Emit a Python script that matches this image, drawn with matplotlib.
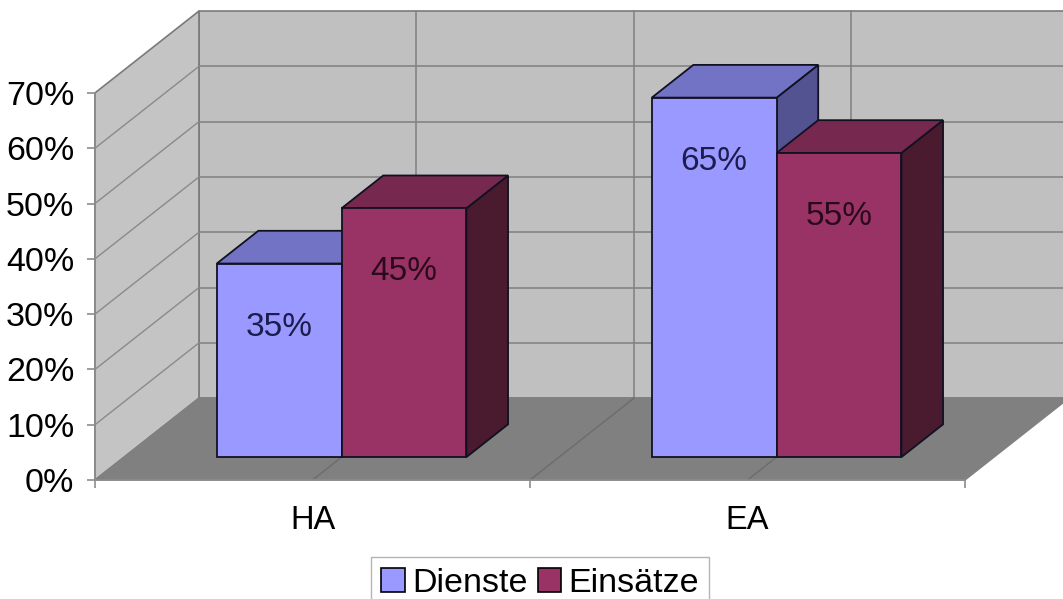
import matplotlib
matplotlib.use('Agg')
import matplotlib.pyplot as plt
from matplotlib.patches import Polygon, Patch

# Daten
categories = ['HA', 'EA']
dienste = [35, 65]
einsaetze = [45, 55]
series_names = ['Dienste', 'Einsätze']
y_ticks = [0, 10, 20, 30, 40, 50, 60, 70]

plt.rcParams['font.family'] = ['Liberation Sans', 'DejaVu Sans']

# Schräge Projektion für den 3D-Look (Tiefe d von 0 = vorne bis 1 = Rückwand)
DX = 0.239      # Verschiebung nach rechts, in Kategorie-Einheiten
DY = 14.8       # Verschiebung nach oben, in Prozent
D0, D1 = 0.28, 0.68
BAR_W = 0.287
YMAX = y_ticks[-1]
NCAT = len(categories)


def proj(x, v, d):
    return (x + d * DX, v + d * DY)


front_cols = ['#9999ff', '#993366']
top_cols = ['#7373c6', '#77284f']
side_cols = ['#535392', '#4a1a2f']
label_cols = ['#1c1c4e', '#2a0a1a']

fig = plt.figure(figsize=(10.63, 5.99), dpi=100)
ax = fig.add_axes([0, 0, 1, 1])
ax.set_xlim(-95 / 435, (1063 - 95) / 435)
ax.set_ylim((480 - 599) / 5.53, 480 / 5.53)

# Wände und Boden
back = [proj(0, 0, 1), proj(NCAT, 0, 1), proj(NCAT, YMAX, 1), proj(0, YMAX, 1)]
left = [proj(0, 0, 0), proj(0, 0, 1), proj(0, YMAX, 1), proj(0, YMAX, 0)]
floor = [proj(0, 0, 0), proj(NCAT, 0, 0), proj(NCAT, 0, 1), proj(0, 0, 1)]
ax.add_patch(Polygon(back, closed=True, fc='#c0c0c0', ec='#7a7a7a', lw=1.2, zorder=1))
ax.add_patch(Polygon(left, closed=True, fc='#c4c4c4', ec='#7a7a7a', lw=1.2, zorder=1))
ax.add_patch(Polygon(floor, closed=True, fc='#808080', ec='#808080', lw=1, zorder=1.2))

# Gitterlinien
for v in y_ticks[1:-1]:
    a, b = proj(0, v, 1), proj(NCAT, v, 1)
    ax.plot([a[0], b[0]], [a[1], b[1]], color='#808080', lw=1.1, zorder=1.1)
    a, b = proj(0, v, 0), proj(0, v, 1)
    ax.plot([a[0], b[0]], [a[1], b[1]], color='#8a8a8a', lw=1.0, zorder=1.1)
for x in [0.5, 1, 1.5]:
    a, b = proj(x, 0, 1), proj(x, YMAX, 1)
    ax.plot([a[0], b[0]], [a[1], b[1]], color='#808080', lw=1.1, zorder=1.1)
    a, b = proj(x, 0, 0), proj(x, 0, 1)
    ax.plot([a[0], b[0]], [a[1], b[1]], color='#6c6c6c', lw=1.0, zorder=1.3)

# Säulen
for i, cat in enumerate(categories):
    for s, vals in enumerate([dienste, einsaetze]):
        v = vals[i]
        x0 = i + 0.5 - BAR_W + s * BAR_W
        x1 = x0 + BAR_W
        side = [proj(x1, 0, D0), proj(x1, 0, D1), proj(x1, v, D1), proj(x1, v, D0)]
        top = [proj(x0, v, D0), proj(x1, v, D0), proj(x1, v, D1), proj(x0, v, D1)]
        front = [proj(x0, 0, D0), proj(x1, 0, D0), proj(x1, v, D0), proj(x0, v, D0)]
        z = 3 + i * 2 + s
        ax.add_patch(Polygon(side, closed=True, fc=side_cols[s], ec='#111122', lw=1.3, zorder=z))
        ax.add_patch(Polygon(top, closed=True, fc=top_cols[s], ec='#111122', lw=1.3, zorder=z))
        ax.add_patch(Polygon(front, closed=True, fc=front_cols[s], ec='#111122', lw=1.3, zorder=z))
        lx, ly = proj((x0 + x1) / 2, v - 11.5, D0)
        ax.text(lx, ly, f'{v}%', ha='center', va='center', fontsize=24,
                color=label_cols[s], zorder=10)

# Achsen
for sp in ['top', 'right']:
    ax.spines[sp].set_visible(False)
ax.spines['left'].set_position(('data', 0))
ax.spines['left'].set_bounds(0, YMAX)
ax.spines['bottom'].set_position(('data', 0))
ax.spines['bottom'].set_bounds(0, NCAT)
for sp in ['left', 'bottom']:
    ax.spines[sp].set_color('#8c8c8c')
    ax.spines[sp].set_linewidth(1.2)
    ax.spines[sp].set_zorder(2)

ax.set_yticks(y_ticks)
ax.set_yticklabels([f'{t}%' for t in y_ticks])
ax.set_xticks(range(NCAT + 1))
ax.set_xticklabels([''] * (NCAT + 1))
ax.set_xticks([i + 0.5 for i in range(NCAT)], minor=True)
ax.set_xticklabels(categories, minor=True)
ax.tick_params(axis='y', direction='out', length=6, width=1.2, color='#8c8c8c',
               labelsize=24.5, pad=9)
ax.tick_params(axis='x', which='major', direction='out', length=6, width=1.2,
               color='#8c8c8c')
ax.tick_params(axis='x', which='minor', length=0, labelsize=23.5, pad=18)

handles = [Patch(facecolor=front_cols[s], edgecolor='black', lw=1.2, label=series_names[s])
           for s in range(2)]
fig.legend(handles=handles, loc='center', bbox_to_anchor=(540 / 1063, 1 - 583 / 599),
           ncol=2, fontsize=24.5, frameon=True, fancybox=False, edgecolor='#b4b4b4',
           framealpha=1, handlelength=0.7, handleheight=0.7, handletextpad=0.2,
           columnspacing=0.3, borderpad=0.3, borderaxespad=0)

fig.savefig('out.png', dpi=100)
